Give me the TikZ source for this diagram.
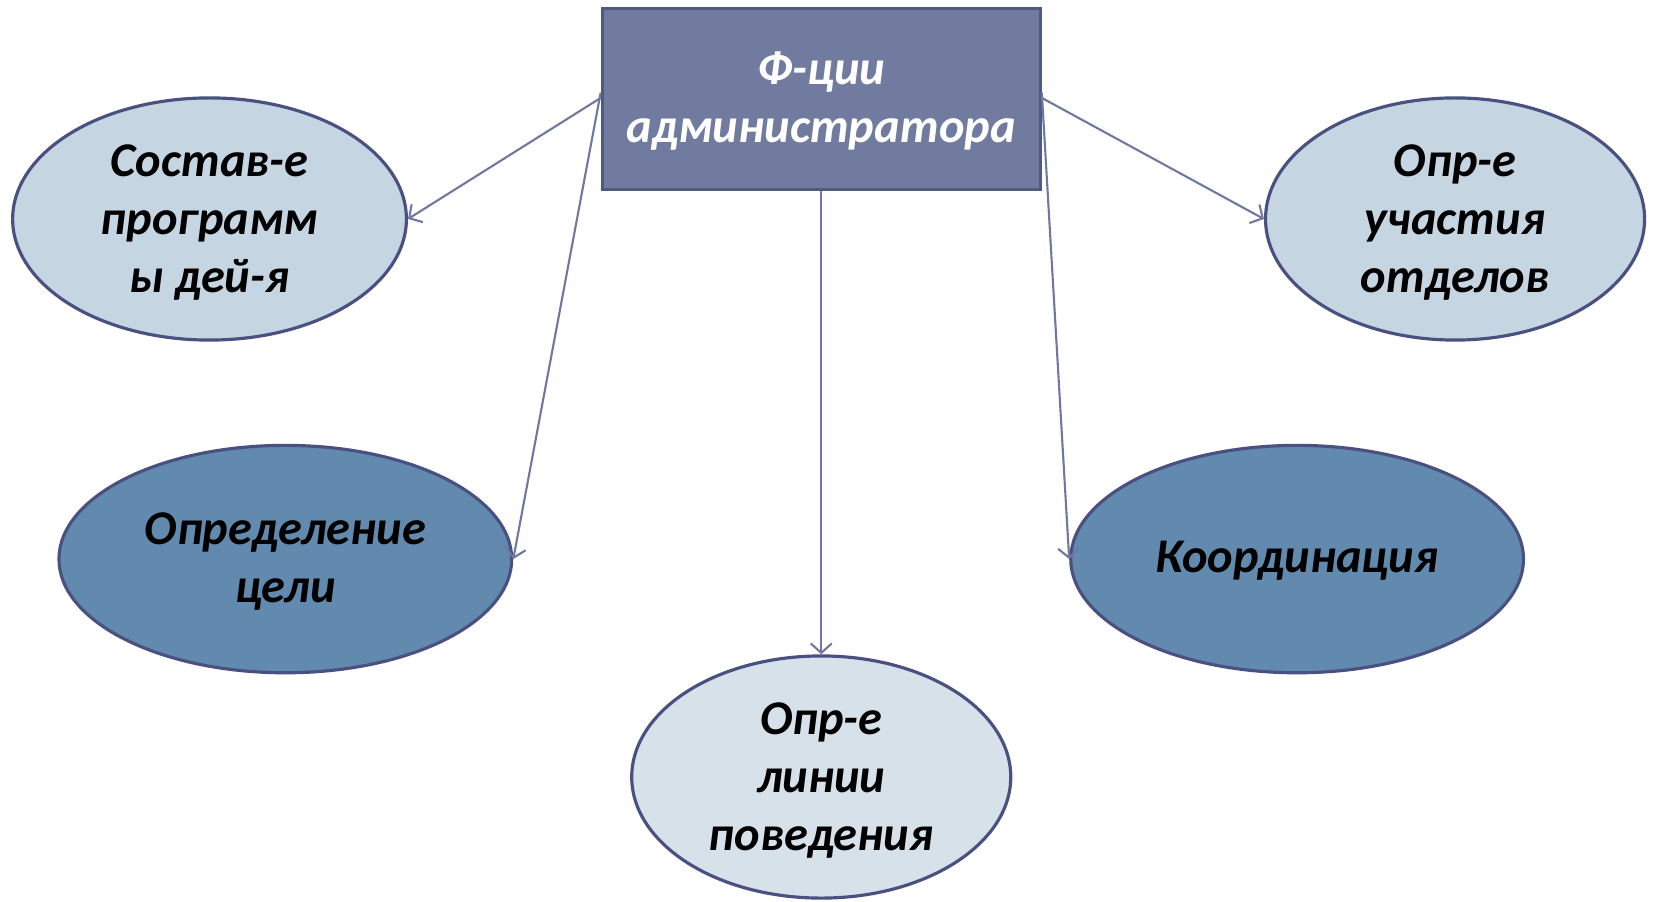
\documentclass[tikz,border=0pt]{standalone}
\usepackage{fontspec}
\setmainfont{Carlito}
\usetikzlibrary{shapes.geometric,arrows.meta}
\definecolor{boxfill}{HTML}{717BA0}
\definecolor{boxline}{HTML}{4F5A80}
\definecolor{elline}{HTML}{4A5080}
\definecolor{lightfill}{HTML}{C5D5E2}
\definecolor{palefill}{HTML}{D7E1EA}
\definecolor{darkfill}{HTML}{628AAF}
\definecolor{arrowcol}{HTML}{6E78A0}
\tikzset{
  headbox/.style={draw=boxline, line width=3pt, fill=boxfill, rectangle, inner sep=0pt, minimum width=416pt, minimum height=172pt},
  oval/.style={draw=elline, line width=3pt, ellipse, inner sep=0pt},
  lbl/.style={align=center, font=\fontsize{46}{55}\selectfont\bfseries\itshape, text=black},
  conn/.style={draw=arrowcol, line width=2pt, -{Straight Barb[length=9pt,width=20pt,line width=2pt]}}
}
\begin{document}
\begin{tikzpicture}[x=1pt,y=-1pt]
\useasboundingbox (0,0) rectangle (1570,856);
\node[headbox] (head) at (780,94) {};
\node[lbl, text=white] (headt) at (780,96) {Ф-ции\\администратора};
\node[oval, fill=lightfill, minimum width=374pt, minimum height=230pt] (e1) at (199,208) {};
\node[lbl] (t1) at (199,211) {Состав-е\\программ\\ы дей-я};
\node[oval, fill=darkfill, minimum width=430pt, minimum height=216pt] (e2) at (271,531) {};
\node[lbl] (t2) at (271,533) {Определение\\цели};
\node[oval, fill=palefill, minimum width=360pt, minimum height=230pt] (e3) at (780,738) {};
\node[lbl] (t3) at (780,741) {Опр-е\\линии\\поведения};
\node[oval, fill=darkfill, minimum width=430pt, minimum height=216pt] (e4) at (1232,531) {};
\node[lbl] (t4) at (1232,533) {Координация};
\node[oval, fill=lightfill, minimum width=360pt, minimum height=230pt] (e5) at (1382,208) {};
\node[lbl] (t5) at (1382,211) {Опр-е\\участия\\отделов};
\draw[conn] ([yshift=1pt]head.west) -- (e1.east);
\draw[conn] ([yshift=6pt]head.west) -- (e2.east);
\draw[conn] (head.south) -- (e3.north);
\draw[conn] ([yshift=6pt]head.east) -- (e4.west);
\draw[conn] ([yshift=1pt]head.east) -- (e5.west);
\end{tikzpicture}
\end{document}
